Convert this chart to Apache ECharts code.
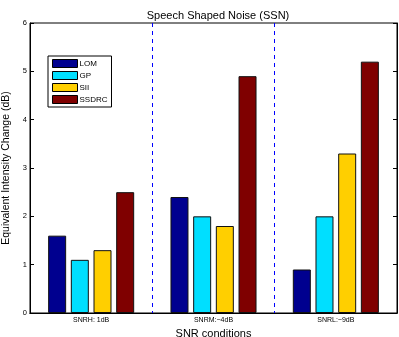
<!DOCTYPE html>
<html>
<head>
<meta charset="utf-8">
<script src="https://cdn.jsdelivr.net/npm/echarts@6/dist/echarts.min.js"></script>
<style>
html, body { margin: 0; padding: 0; background: #fff; }
#main { width: 399px; height: 337px; }
</style>
</head>
<body>
<div id="main"></div>
<script>
var conditions = ['SNRH: 1dB', 'SNRM:\u22124dB', 'SNRL:\u22129dB'];
var lom = [1.6, 2.4, 0.9];
var gp = [1.1, 2.0, 2.0];
var sii = [1.3, 1.8, 3.3];
var ssdrc = [2.5, 4.9, 5.2];
var yTicks = [0, 1, 2, 3, 4, 5, 6];

var dom = document.getElementById('main');
var myChart = echarts.init(dom);
var font = 'Liberation Sans, Arial, sans-serif';

function bar(name, data, color) {
    return {
        name: name,
        type: 'bar',
        data: data,
        barWidth: 18,
        barGap: '26%',
        itemStyle: { color: color, borderColor: '#111', borderWidth: 1 }
    };
}

var option = {
    animation: false,
    textStyle: { fontFamily: font },
    title: {
        text: 'Speech Shaped Noise (SSN)',
        left: 213,
        textAlign: 'center',
        top: 5,
        textStyle: { fontSize: 11, fontWeight: 'normal', color: '#000', fontFamily: font }
    },
    legend: {
        orient: 'vertical',
        left: 48,
        top: 56,
        icon: 'rect',
        itemWidth: 25,
        itemHeight: 8,
        itemGap: 3,
        padding: [3, 4, 3, 4],
        borderColor: '#000',
        borderWidth: 1,
        backgroundColor: '#fff',
        itemStyle: { borderColor: '#000', borderWidth: 1 },
        textStyle: { fontSize: 8, color: '#000', padding: [0, 0, 0, -3], fontFamily: font },
        data: ['LOM', 'GP', 'SII', 'SSDRC']
    },
    grid: {
        left: 30, right: 2, top: 23, bottom: 24,
        outerBoundsMode: 'none',
        containLabel: false,
        show: true, borderColor: '#000', borderWidth: 1, backgroundColor: 'transparent'
    },
    xAxis: [{
        type: 'category',
        data: conditions,
        position: 'bottom',
        name: 'SNR conditions',
        nameLocation: 'middle',
        nameGap: 12,
        nameTextStyle: { fontSize: 11, color: '#000' },
        axisLine: { lineStyle: { color: '#000' } },
        axisTick: { inside: true, alignWithLabel: true, length: 4, lineStyle: { color: '#000' } },
        axisLabel: { fontSize: 7, color: '#000', margin: 4 },
        splitLine: {
            show: true,
            interval: function (index) { return index === 1 || index === 2; },
            lineStyle: { color: ['#0000ff'], type: [4, 4], width: 1 }
        }
    }, {
        type: 'category',
        data: conditions,
        position: 'top',
        axisLine: { lineStyle: { color: '#000' } },
        axisTick: { inside: true, alignWithLabel: true, length: 4, lineStyle: { color: '#000' } },
        axisLabel: { show: false },
        splitLine: { show: false }
    }],
    yAxis: [{
        type: 'value',
        min: 0, max: 6, interval: 1,
        name: 'Equivalent Intensity Change (dB)',
        nameLocation: 'middle',
        nameGap: 13,
        nameTextStyle: { fontSize: 10.5, color: '#000' },
        axisLine: { show: true, lineStyle: { color: '#000' } },
        axisTick: { show: true, inside: true, length: 4, lineStyle: { color: '#000' } },
        axisLabel: { fontSize: 7.5, color: '#000', margin: 3,
            formatter: function (v) { return yTicks.indexOf(v) >= 0 ? String(v) : ''; } },
        splitLine: { show: false }
    }, {
        type: 'value',
        min: 0, max: 6, interval: 1,
        position: 'right',
        axisLine: { show: true, lineStyle: { color: '#000' } },
        axisTick: { show: true, inside: true, length: 4, lineStyle: { color: '#000' } },
        axisLabel: { show: false },
        splitLine: { show: false }
    }],
    series: [
        bar('LOM', lom, '#00008f'),
        bar('GP', gp, '#00dfff'),
        bar('SII', sii, '#ffcf00'),
        bar('SSDRC', ssdrc, '#7f0000')
    ]
};

if (option && typeof option === 'object') {
    myChart.setOption(option, true);
}
</script>
</body>
</html>
